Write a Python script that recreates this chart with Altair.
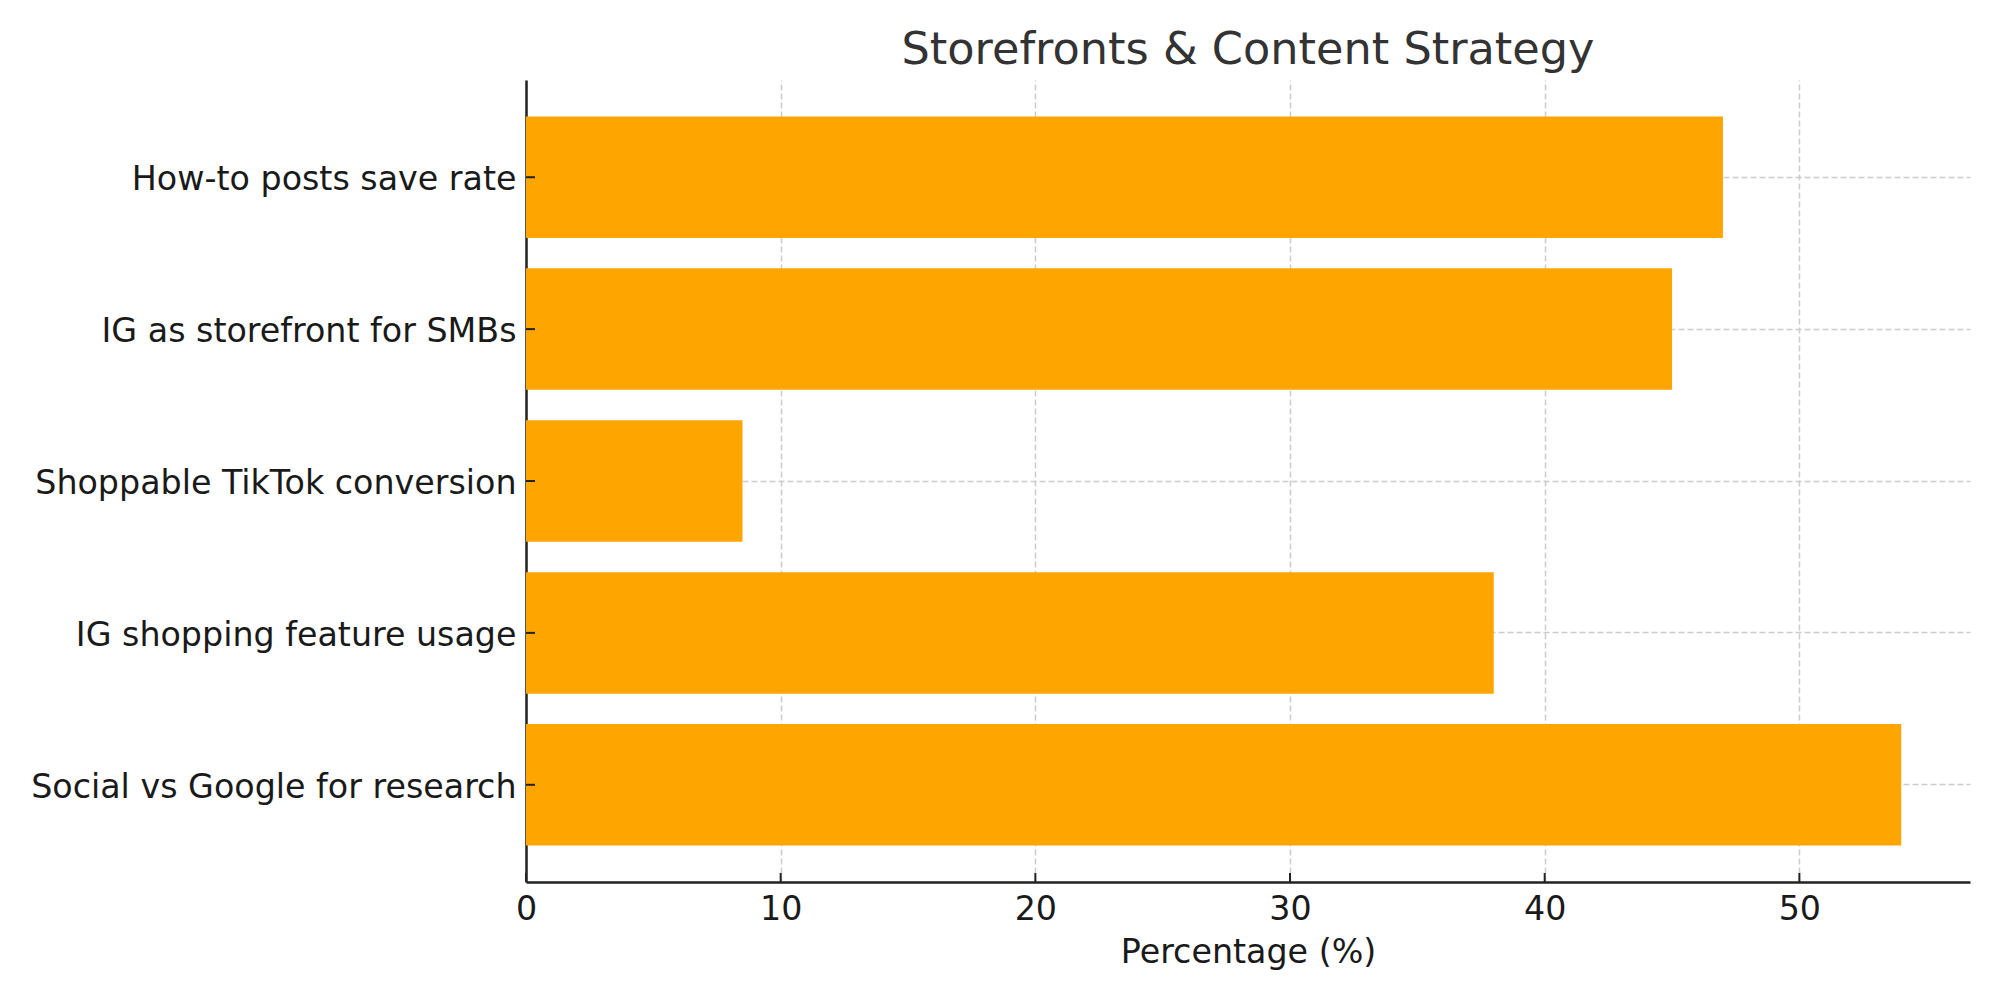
import altair as alt
import pandas as pd

categories = [
    "How-to posts save rate",
    "IG as storefront for SMBs",
    "Shoppable TikTok conversion",
    "IG shopping feature usage",
    "Social vs Google for research",
]
values = [47, 45, 8.5, 38, 54]
x_ticks = [0, 10, 20, 30, 40, 50]

W, H = 1444, 802
FONT = "DejaVu Sans"

df = pd.DataFrame({"label": categories, "value": values})
ticks_df = pd.DataFrame({"t": x_ticks})

x_scale = alt.Scale(domain=[0, 56.7], nice=False, zero=True)
y_scale = alt.Scale(paddingInner=0.2, paddingOuter=0.24)

bars = alt.Chart(df).mark_bar(color="#FFA500").encode(
    x=alt.X("value:Q", scale=x_scale,
            axis=alt.Axis(values=x_ticks, title="Percentage (%)", ticks=False,
                          labelPadding=11, titlePadding=11, format="d",
                          labelFlush=False, grid=True)),
    y=alt.Y("label:N", sort=categories, scale=y_scale,
            axis=alt.Axis(title=None, ticks=False, labelPadding=10,
                          labelOffset=3, labelLimit=1000, grid=True)),
)

ytick = alt.Chart(df).mark_rule(color="#222222", strokeWidth=2).encode(
    y=alt.Y("label:N", sort=categories, scale=y_scale),
    x=alt.value(0), x2=alt.value(9),
)

xtick = alt.Chart(ticks_df).mark_rule(color="#222222", strokeWidth=2).encode(
    x=alt.X("t:Q", scale=x_scale),
    y=alt.value(H), y2=alt.value(H - 9),
)

chart = alt.layer(bars, ytick, xtick).properties(
    width=W, height=H,
    autosize=alt.AutoSizeParams(type="none"),
    padding={"left": 526, "top": 80, "right": 30, "bottom": 118},
    title=alt.TitleParams("Storefronts & Content Strategy", anchor="middle",
                          frame="group", font=FONT, fontSize=44.6,
                          fontWeight="normal", color="#333333",
                          baseline="alphabetic", offset=-29),
).configure_axis(
    labelFont=FONT, labelFontSize=33.3, labelColor="#1a1a1a",
    titleFont=FONT, titleFontSize=33.3, titleColor="#1a1a1a", titleFontWeight="normal",
    domainColor="#222222", domainWidth=2.5,
    gridColor="#cccccc", gridDash=[6, 3], gridWidth=1.5,
    zindex=1,
).configure_view(stroke=None)

chart.save("out.html", embed_options={"renderer": "svg", "actions": False})
